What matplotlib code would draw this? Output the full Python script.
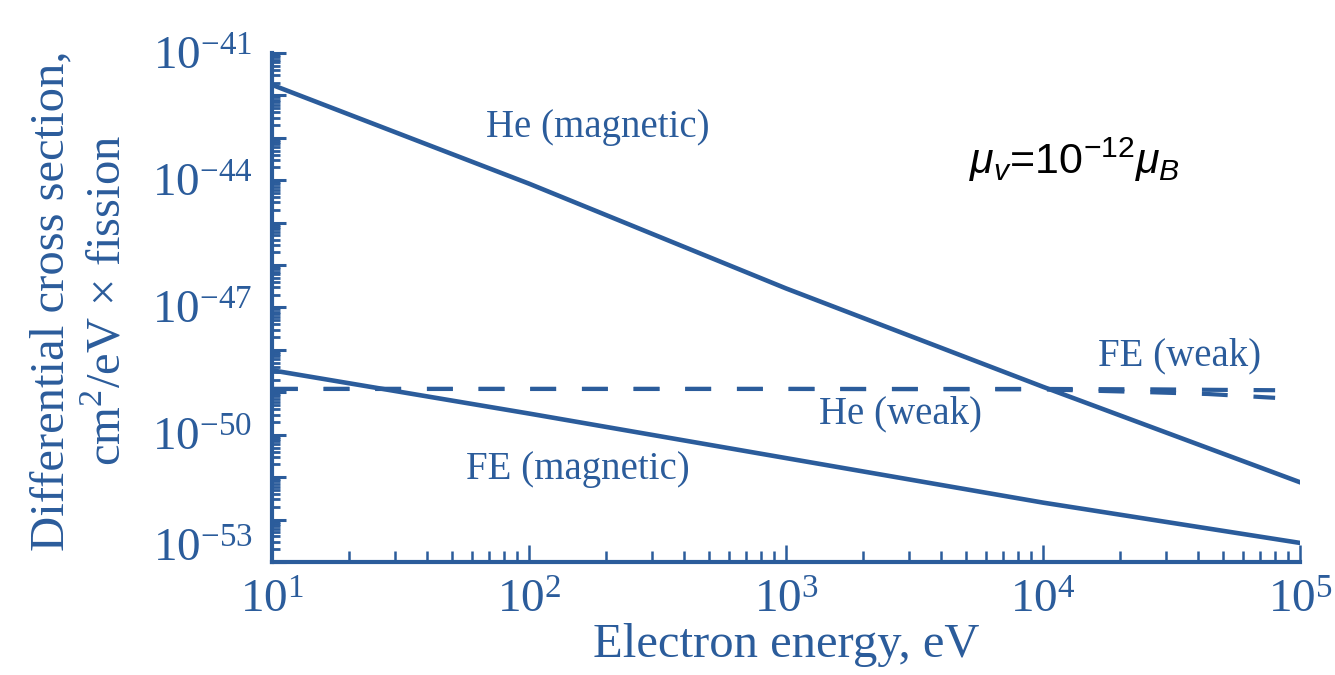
import matplotlib
matplotlib.use('Agg')
import matplotlib.pyplot as plt
import matplotlib.ticker as mticker
import matplotlib.transforms as mtransforms
import numpy as np

plt.rcParams['font.family'] = ['Liberation Serif', 'DejaVu Serif']
plt.rcParams['mathtext.fontset'] = 'custom'
plt.rcParams['mathtext.rm'] = 'Liberation Serif'
plt.rcParams['mathtext.it'] = 'Liberation Sans:italic'
plt.rcParams['mathtext.sf'] = 'Liberation Sans'

# data (log10 of cross section)
energy_mag = [10, 100, 1e3, 1e4, 1e5]
he_mag_log = [-41.75, -44.08, -46.55, -48.87, -51.12]
fe_mag_log = [-48.48, -49.5, -50.55, -51.6, -52.55]

energy_weak = [10, 1e3, 1e4, 2.7e4, 4.4e4, 8e4]
fe_weak_log = [-48.92, -48.92, -48.92, -48.93, -48.94, -48.95]
he_weak_log = [-48.92, -48.92, -48.93, -49.0, -49.04, -49.13]

x_exps = [1, 2, 3, 4, 5]
y_exps = list(range(-53, -40))
y_label_exps = [-41, -44, -47, -50, -53]

col = '#2b5c9b'

fig = plt.figure(figsize=(13.35, 6.75), dpi=100)
ax = fig.add_axes([0.2037, 0.1674, 0.9738 - 0.2037, 0.9215 - 0.1674])

ax.plot(energy_mag, 10.0 ** np.array(he_mag_log), color=col, lw=3.3)
ax.plot(energy_mag, 10.0 ** np.array(fe_mag_log), color=col, lw=3.3)
ax.plot(energy_weak, 10.0 ** np.array(fe_weak_log), color=col, lw=3.0, ls=(0, (6.2, 6.2)))
ax.plot(energy_weak, 10.0 ** np.array(he_weak_log), color=col, lw=3.0, ls=(0, (6.2, 6.2)))

ax.set_xscale('log')
ax.set_yscale('log')
ax.set_xlim(10, 1e5)
ax.set_ylim(1e-53, 1e-41)

ax.xaxis.set_major_locator(mticker.FixedLocator([10.0 ** e for e in x_exps]))
ax.xaxis.set_minor_locator(mticker.LogLocator(base=10, subs=np.arange(2, 10)))
ax.xaxis.set_major_formatter(mticker.FuncFormatter(
    lambda v, p: r'$\mathdefault{10^{%d}}$' % round(np.log10(v))))
ax.xaxis.set_minor_formatter(mticker.NullFormatter())

ax.yaxis.set_major_locator(mticker.FixedLocator([10.0 ** e for e in y_exps]))
ax.yaxis.set_minor_locator(mticker.LogLocator(base=10, subs=np.arange(2, 10), numticks=50))


def yfmt(v, p):
    e = int(round(np.log10(v)))
    if e in y_label_exps:
        return r'$\mathdefault{10^{%d}}$' % e
    return ''


ax.yaxis.set_major_formatter(mticker.FuncFormatter(yfmt))
ax.yaxis.set_minor_formatter(mticker.NullFormatter())

for s in ['top', 'right']:
    ax.spines[s].set_visible(False)
for s in ['left', 'bottom']:
    ax.spines[s].set_linewidth(3)
    ax.spines[s].set_color(col)

ax.tick_params(axis='both', which='both', direction='in', color=col, labelcolor=col)
ax.tick_params(axis='x', which='major', length=12, width=1.8, labelsize=34, pad=13)
ax.tick_params(axis='x', which='minor', length=8, width=1.8)
ax.tick_params(axis='y', which='major', length=10, width=2.2, labelsize=34, pad=14)
ax.tick_params(axis='y', which='minor', length=6, width=2.0)

# lift the bottom y label (10^-53, first fixed tick) a little, as in the original
t0 = ax.yaxis.get_major_ticks(len(y_exps))[0]
t0.label1.set_transform(t0.label1.get_transform() +
                        mtransforms.ScaledTranslation(0, 0.17, fig.dpi_scale_trans))

ax.set_xlabel('Electron energy, eV', fontsize=35, color=col, labelpad=0)
fig.text(0.06, 0.555, 'Differential cross section,\ncm$^{\\mathdefault{2}}$/eV × fission',
         rotation=90, ha='center', va='center', fontsize=35, color=col,
         multialignment='center', linespacing=1.35)

ax.text(185, 10 ** -42.76, 'He (magnetic)', fontsize=28, color=col, ha='center', va='center')
ax.text(155, 10 ** -50.81, 'FE (magnetic)', fontsize=28, color=col, ha='center', va='center')
ax.text(2780, 10 ** -49.52, 'He (weak)', fontsize=28, color=col, ha='center', va='center')
ax.text(34100, 10 ** -48.15, 'FE (weak)', fontsize=28, color=col, ha='center', va='center')
ax.text(13300, 10 ** -43.52, r'$\mu_v$=10$^{\mathsf{-12}}$$\mu_B$', fontsize=31, color='black',
        ha='center', va='center', family='Liberation Sans')

fig.savefig('out.png', dpi=100)
